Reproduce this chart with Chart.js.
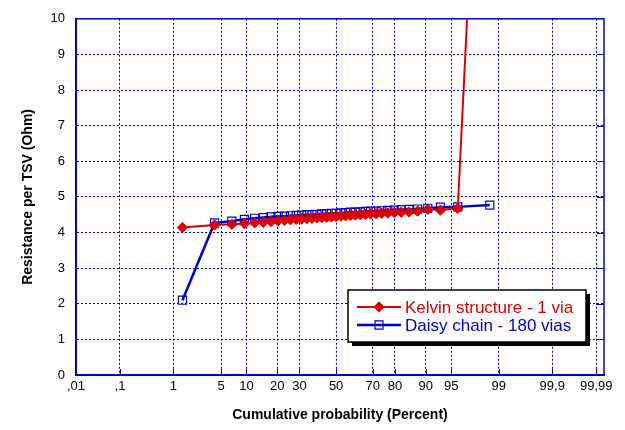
<!DOCTYPE html>
<html>
<head>
<meta charset="utf-8">
<script src="https://cdn.jsdelivr.net/npm/chart.js@4/dist/chart.umd.min.js"></script>
<style>
  html, body { margin: 0; padding: 0; background: #fff; }
  #wrap { width: 625px; height: 430px; }
</style>
</head>
<body>
<div id="wrap"><canvas id="grafico"></canvas></div>
<script>
// probabilidade acumulada (%) de cada ponto
const probabilidade = [1.4, 4.1, 6.8, 9.5, 12.2, 14.9, 17.6, 20.3, 23.0, 25.7, 28.4, 31.1, 33.8, 36.5, 39.2,
  41.9, 44.6, 47.3, 50.0, 52.7, 55.4, 58.1, 60.8, 63.5, 66.2, 68.9, 71.6, 74.3, 77.0, 79.7, 82.4, 85.1,
  87.8, 90.5, 93.2, 95.9, 98.6];

const kelvin = [4.14, 4.21, 4.23, 4.25, 4.27, 4.29, 4.31, 4.33, 4.34, 4.36, 4.37, 4.38, 4.39, 4.40, 4.41,
  4.42, 4.43, 4.44, 4.45, 4.46, 4.47, 4.48, 4.49, 4.50, 4.51, 4.52, 4.53, 4.54, 4.55, 4.56, 4.57, 4.58,
  4.60, 4.65, 4.63, 4.68, 23.0];

const daisy = [2.10, 4.27, 4.32, 4.37, 4.40, 4.42, 4.44, 4.45, 4.46, 4.47, 4.48, 4.49, 4.50, 4.50, 4.51,
  4.52, 4.53, 4.54, 4.54, 4.55, 4.56, 4.57, 4.57, 4.58, 4.59, 4.60, 4.60, 4.61, 4.62, 4.63, 4.64, 4.65,
  4.66, 4.68, 4.71, 4.72, 4.77];

const ticksPercent = [0.01, 0.1, 1, 5, 10, 20, 30, 50, 70, 80, 90, 95, 99, 99.9, 99.99];
const ticksLabel = [',01', ',1', '1', '5', '10', '20', '30', '50', '70', '80', '90', '95', '99', '99,9', '99,99'];

const nomesSeries = ['Kelvin structure - 1 via', 'Daisy chain - 180 vias'];

const AZUL = '#0000cc';
const VERMELHO = '#dd0000';
const fonte = 'Arial, "Liberation Sans", sans-serif';

// inversa da normal (Acklam) -> escala de probabilidade
function probit(p) {
  const a = [-39.69683028665376, 220.9460984245205, -275.9285104469687, 138.3577518672690, -30.66479806614716, 2.506628277459239];
  const b = [-54.47609879822406, 161.5858368580409, -155.6989798598866, 66.80131188771972, -13.28068155288572];
  const c = [-0.007784894002430293, -0.3223964580411365, -2.400758277161838, -2.549732539343734, 4.374664141464968, 2.938163982698783];
  const d = [0.007784695709041462, 0.3224671290700398, 2.445134137142996, 3.754408661907416];
  const pl = 0.02425;
  let q, r;
  if (p < pl) {
    q = Math.sqrt(-2 * Math.log(p));
    return (((((c[0] * q + c[1]) * q + c[2]) * q + c[3]) * q + c[4]) * q + c[5]) / ((((d[0] * q + d[1]) * q + d[2]) * q + d[3]) * q + 1);
  }
  if (p > 1 - pl) {
    q = Math.sqrt(-2 * Math.log(1 - p));
    return -(((((c[0] * q + c[1]) * q + c[2]) * q + c[3]) * q + c[4]) * q + c[5]) / ((((d[0] * q + d[1]) * q + d[2]) * q + d[3]) * q + 1);
  }
  q = p - 0.5;
  r = q * q;
  return (((((a[0] * r + a[1]) * r + a[2]) * r + a[3]) * r + a[4]) * r + a[5]) * q / (((((b[0] * r + b[1]) * r + b[2]) * r + b[3]) * r + b[4]) * r + 1);
}

const z = v => probit(v / 100);
const pontos = serie => serie.map((v, i) => ({ x: z(probabilidade[i]), y: v }));
const zTicks = ticksPercent.map(z);

// legenda desenhada dentro da área do gráfico
const legendaInterna = {
  id: 'legendaInterna',
  afterDraw(chart) {
    const ctx = chart.ctx;
    const x = 348, y = 290, w = 238, h = 52;
    ctx.save();
    ctx.fillStyle = '#000';
    ctx.fillRect(x + 4, y + 4, w, h);
    ctx.fillStyle = '#fff';
    ctx.fillRect(x, y, w, h);
    ctx.strokeStyle = '#000';
    ctx.lineWidth = 1.5;
    ctx.strokeRect(x, y, w, h);
    ctx.font = '17px ' + fonte;
    ctx.textBaseline = 'middle';
    chart.data.datasets.forEach((ds, i) => {
      const ly = y + 17 + i * 18;
      ctx.strokeStyle = ds.borderColor;
      ctx.lineWidth = ds.borderWidth;
      ctx.beginPath();
      ctx.moveTo(x + 9, ly);
      ctx.lineTo(x + 53, ly);
      ctx.stroke();
      ctx.fillStyle = ds.pointBackgroundColor;
      ctx.strokeStyle = ds.pointBorderColor;
      ctx.lineWidth = ds.pointBorderWidth;
      Chart.helpers.drawPoint(ctx, {
        pointStyle: ds.pointStyle,
        radius: ds.pointRadius,
        borderWidth: ds.pointBorderWidth,
        rotation: 0
      }, x + 31, ly);
      ctx.fillStyle = ds.borderColor;
      ctx.fillText(ds.label, x + 57, ly + 1);
    });
    ctx.restore();
  }
};

// moldura sólida e pequenos traços internos
const molduraTracos = {
  id: 'molduraTracos',
  beforeDatasetsDraw(chart) {
    const { ctx, chartArea, scales } = chart;
    ctx.save();
    ctx.strokeStyle = AZUL;
    ctx.lineWidth = 1;
    ctx.beginPath();
    zTicks.forEach(t => {
      const px = Math.round(scales.x.getPixelForValue(t)) + 0.5;
      ctx.moveTo(px, chartArea.bottom);
      ctx.lineTo(px, chartArea.bottom - 6);
    });
    for (let v = 1; v < 10; v++) {
      const py = Math.round(scales.y.getPixelForValue(v)) + 0.5;
      ctx.moveTo(chartArea.right, py);
      ctx.lineTo(chartArea.right - 7, py);
    }
    ctx.stroke();
    ctx.lineWidth = 1.5;
    ctx.strokeRect(chartArea.left, chartArea.top, chartArea.right - chartArea.left, chartArea.bottom - chartArea.top);
    ctx.restore();
  }
};

new Chart(document.getElementById('grafico'), {
  type: 'line',
  data: {
    datasets: [{
      label: nomesSeries[0],
      data: pontos(kelvin),
      borderColor: VERMELHO,
      backgroundColor: VERMELHO,
      borderWidth: 2,
      pointStyle: 'rectRot',
      pointRadius: 5.2,
      pointBackgroundColor: VERMELHO,
      pointBorderColor: VERMELHO,
      pointBorderWidth: 1,
      fill: false
    }, {
      label: nomesSeries[1],
      data: pontos(daisy),
      borderColor: AZUL,
      backgroundColor: AZUL,
      borderWidth: 2.5,
      pointStyle: 'rect',
      pointRadius: 5.7,
      pointBackgroundColor: 'rgba(255,255,255,0)',
      pointBorderColor: AZUL,
      pointBorderWidth: 1.2,
      fill: false
    }]
  },
  options: {
    responsive: true,
    maintainAspectRatio: false,
    animation: false,
    layout: { padding: { left: 0, top: 16, right: 21, bottom: 0 } },
    plugins: {
      legend: { display: false },
      tooltip: { enabled: false }
    },
    scales: {
      x: {
        type: 'linear',
        min: z(0.01),
        max: 3.83,
        afterBuildTicks: s => { s.ticks = zTicks.map(v => ({ value: v })); },
        afterFit: s => { s.height = 55; },
        ticks: {
          autoSkip: false,
          maxRotation: 0,
          padding: 4,
          color: '#000',
          font: { family: fonte, size: 13 },
          callback: (v, i) => ticksLabel[i]
        },
        grid: {
          color: AZUL,
          lineWidth: 1,
          drawTicks: false
        },
        border: { color: AZUL, width: 2, dash: [2, 2] },
        title: {
          display: true,
          text: 'Cumulative probability (Percent)',
          color: '#000',
          font: { family: fonte, size: 14, weight: 'bold' },
          padding: { top: 6, bottom: 6 }
        }
      },
      y: {
        min: 0,
        max: 10,
        afterFit: s => { s.width = 76; },
        ticks: {
          stepSize: 1,
          padding: 11,
          color: '#000',
          font: { family: fonte, size: 13 }
        },
        grid: {
          color: AZUL,
          lineWidth: 1,
          drawTicks: false
        },
        border: { color: AZUL, width: 2, dash: [2, 2] },
        title: {
          display: true,
          text: 'Resistance per TSV (Ohm)',
          color: '#000',
          font: { family: fonte, size: 14, weight: 'bold' },
          padding: { top: 20, bottom: 20 }
        }
      }
    }
  },
  plugins: [molduraTracos, legendaInterna]
});
</script>
</body>
</html>
